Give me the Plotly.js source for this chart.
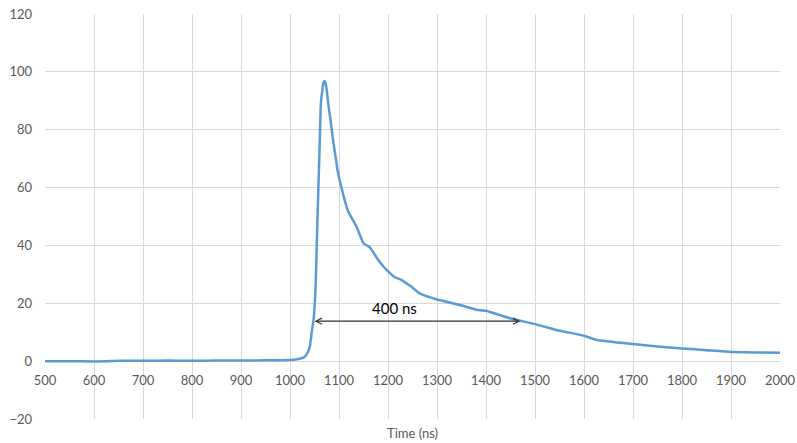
<!DOCTYPE html>
<html>
<head>
<meta charset="utf-8">
<script src="https://cdn.plot.ly/plotly-3.0.1.min.js"></script>
<style>html,body{margin:0;padding:0;background:#fff;}#chart{width:797px;height:443px;}</style>
</head>
<body>
<div id="chart"></div>
<script>
// Time (ns) and signal values
const time = [500,550,600,650,700,750,800,850,900,950,1000,1020,1030,1036,1041,1044,1048,1052,1056,1059,1061,1063,1066,1068,1070,1072,1075,1078,1083,1087,1094,1097,1105,1118,1136,1150,1157,1163,1180,1200,1214,1225,1248,1265,1300,1347,1380,1400,1449,1500,1551,1600,1626,1700,1750,1800,1850,1900,1950,2000];
const signal = [0,0,-0.1,0.1,0.1,0.2,0.1,0.2,0.2,0.3,0.4,0.8,1.5,3,5.5,9.6,14.2,24.5,48.7,66,77.5,89,93.7,96,96.8,96.4,93.7,89,83,77.5,69.5,66,60,52,46.4,40.7,40,39.3,35,31,29,28.3,25.7,23.4,21.3,19.4,17.8,17.4,14.8,12.8,10.5,8.8,7.3,5.9,5.1,4.4,3.8,3.2,3.0,2.9];

// Annotation: 400 ns span
const spanStart = [1047, 13.8];
const spanEnd = [1470, 13.8];
const spanLabel = "400 ns";
const spanLabelPos = [1213, 18.5];

const xTitle = "Time (ns)";

const trace = {
  x: time, y: signal, type: 'scatter', mode: 'lines',
  line: {color: '#5B9BD5', width: 2.5, shape: 'spline', smoothing: 0.4},
  hoverinfo: 'skip'
};

const layout = {
  width: 797, height: 443,
  margin: {l: 45, r: 17, t: 14, b: 24, pad: 0},
  paper_bgcolor: '#fff', plot_bgcolor: '#fff',
  showlegend: false,
  font: {family: 'Lato, "Open Sans", sans-serif', color: '#595959', size: 13},
  xaxis: {
    range: [500, 2000], tick0: 500, dtick: 100,
    showgrid: true, gridcolor: '#d9d9d9', gridwidth: 1,
    zeroline: false, showline: false, ticks: '',
    anchor: 'free', position: 20/140,
    ticklabelstandoff: 10,
    tickfont: {size: 13, color: '#595959'}
  },
  yaxis: {
    range: [-20, 120], tick0: -20, dtick: 20,
    showgrid: true, gridcolor: '#d9d9d9', gridwidth: 1,
    zeroline: false, showline: false, ticks: '',
    ticklabelstandoff: 12,
    tickfont: {size: 13, color: '#595959'}
  },
  annotations: [
    {
      x: spanEnd[0], y: spanEnd[1], ax: spanStart[0], ay: spanStart[1],
      xref: 'x', yref: 'y', axref: 'x', ayref: 'y',
      text: '', showarrow: true, arrowside: 'end+start',
      arrowhead: 5, startarrowhead: 5, arrowsize: 1, startarrowsize: 1,
      arrowwidth: 1.2, arrowcolor: '#333'
    },
    {
      x: spanLabelPos[0], y: spanLabelPos[1], xref: 'x', yref: 'y',
      text: spanLabel, showarrow: false,
      font: {family: 'Lato, "Open Sans", sans-serif', size: 15, color: '#000'}
    },
    {
      x: 0.5, y: 0, xref: 'paper', yref: 'paper',
      yanchor: 'middle', yshift: -14,
      text: xTitle, showarrow: false,
      font: {family: 'Lato, "Open Sans", sans-serif', size: 13, color: '#595959'}
    }
  ]
};

Plotly.newPlot('chart', [trace], layout, {displayModeBar: false, staticPlot: true});
</script>
</body>
</html>
